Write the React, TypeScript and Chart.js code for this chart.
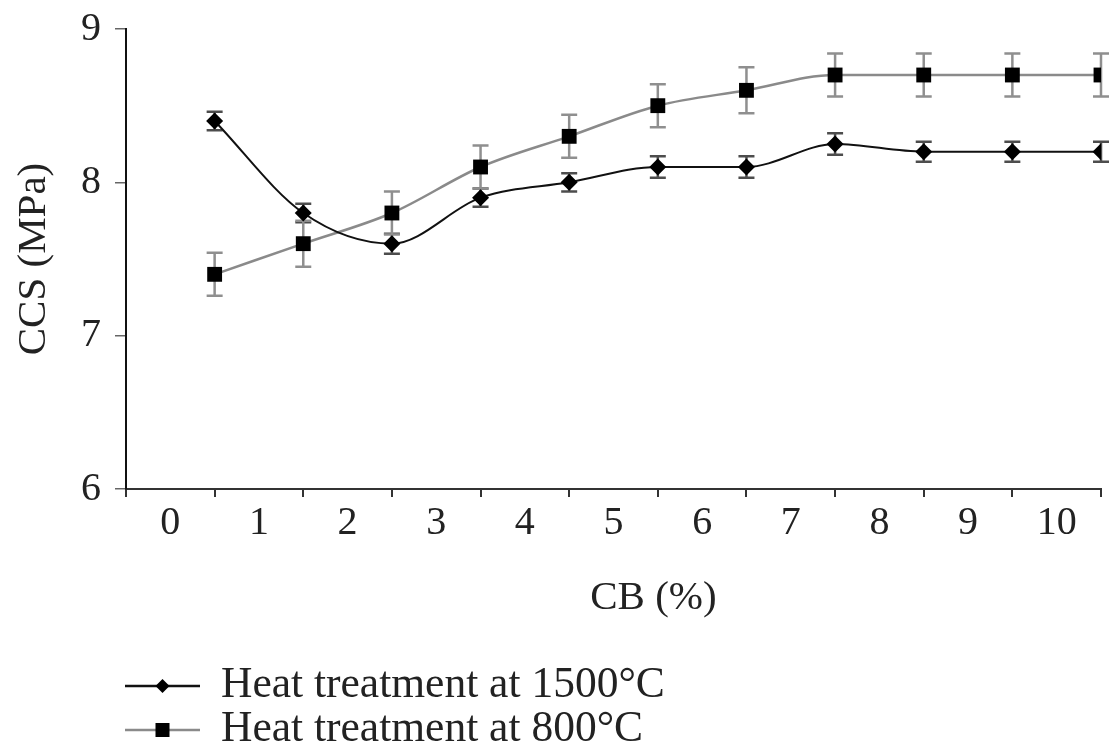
import React, { useEffect, useRef } from 'react';
import { Chart, registerables } from 'chart.js';

Chart.register(...registerables);

// ---- data ----
const xLabels = ['0', '1', '2', '3', '4', '5', '6', '7', '8', '9', '10'];
const xPositions = [1, 2, 3, 4, 5, 6, 7, 8, 9, 10, 11];
const series1500 = [8.4, 7.8, 7.6, 7.9, 8.0, 8.1, 8.1, 8.25, 8.2, 8.2, 8.2];
const err1500 = [0.06, 0.06, 0.065, 0.06, 0.06, 0.07, 0.07, 0.07, 0.065, 0.065, 0.065];
const series800 = [7.4, 7.6, 7.8, 8.1, 8.3, 8.5, 8.6, 8.7, 8.7, 8.7, 8.7];
const err800 = [0.14, 0.15, 0.14, 0.14, 0.14, 0.14, 0.15, 0.14, 0.14, 0.14, 0.14];
const seriesNames = ['Heat treatment at 1500°C', 'Heat treatment at 800°C'];
const xTitle = 'CB (%)';
const yTitle = 'CCS (MPa)';

const FONT = '"Liberation Serif", "Times New Roman", serif';

const errorBarPlugin = {
  id: 'errorBars',
  beforeDatasetsDraw(chart: any) {
    const { ctx } = chart;
    const xs = chart.scales.x;
    const ys = chart.scales.y;
    ctx.save();
    chart.data.datasets.forEach((ds: any) => {
      ctx.strokeStyle = ds.errorColor;
      ctx.lineWidth = 2.5;
      ds.data.forEach((pt: any, i: number) => {
        const e = ds.errors[i];
        const px = xs.getPixelForValue(pt.x);
        const top = ys.getPixelForValue(pt.y + e);
        const bot = ys.getPixelForValue(pt.y - e);
        ctx.beginPath();
        ctx.moveTo(px, top);
        ctx.lineTo(px, bot);
        ctx.moveTo(px - 8, top);
        ctx.lineTo(px + 8, top);
        ctx.moveTo(px - 8, bot);
        ctx.lineTo(px + 8, bot);
        ctx.stroke();
      });
    });
    ctx.restore();
  },
};

const annotationsPlugin = {
  id: 'customTexts',
  afterDraw(chart: any) {
    const { ctx, chartArea } = chart;
    ctx.save();
    // x-axis title
    ctx.fillStyle = '#222';
    ctx.font = `41px ${FONT}`;
    ctx.textAlign = 'center';
    ctx.textBaseline = 'middle';
    ctx.fillText(xTitle, chartArea.left + (chartArea.right - chartArea.left) * 0.541, chartArea.bottom + 109);

    // legend
    const rows = [chartArea.bottom + 197, chartArea.bottom + 241];
    chart.data.datasets.forEach((ds: any, i: number) => {
      const y = rows[i];
      const x0 = chartArea.left - 1;
      const x1 = chartArea.left + 74;
      const xm = (x0 + x1) / 2;
      ctx.strokeStyle = ds.borderColor;
      ctx.lineWidth = 2.5;
      ctx.beginPath();
      ctx.moveTo(x0, y);
      ctx.lineTo(x1, y);
      ctx.stroke();
      ctx.fillStyle = '#000';
      ctx.beginPath();
      if (ds.pointStyle === 'rectRot') {
        const r = 7;
        ctx.moveTo(xm, y - r);
        ctx.lineTo(xm + r, y);
        ctx.lineTo(xm, y + r);
        ctx.lineTo(xm - r, y);
        ctx.closePath();
      } else {
        ctx.rect(xm - 7, y - 7, 14, 14);
      }
      ctx.fill();
      ctx.fillStyle = '#222';
      ctx.font = `43.5px ${FONT}`;
      ctx.textAlign = 'left';
      ctx.textBaseline = 'middle';
      ctx.fillText(ds.label, chartArea.left + 95, y);
    });
    ctx.restore();
  },
};

export default function App() {
  const canvasRef = useRef<HTMLCanvasElement | null>(null);

  useEffect(() => {
    document.body.style.margin = '0';
    const canvas = canvasRef.current;
    if (!canvas) return;
    const chart = new Chart(canvas, {
      type: 'line',
      data: {
        datasets: [
          {
            label: seriesNames[0],
            data: xPositions.map((x, i) => ({ x, y: series1500[i] })),
            errors: err1500,
            errorColor: '#4d4d4d',
            borderColor: '#111111',
            borderWidth: 2,
            backgroundColor: '#000000',
            pointBackgroundColor: '#000000',
            pointBorderColor: '#000000',
            pointStyle: 'rectRot',
            pointRadius: 8.5,
            pointBorderWidth: 0,
            cubicInterpolationMode: 'monotone',
          } as any,
          {
            label: seriesNames[1],
            data: xPositions.map((x, i) => ({ x, y: series800[i] })),
            errors: err800,
            errorColor: '#8f8f8f',
            borderColor: '#8a8a8a',
            borderWidth: 2.5,
            backgroundColor: '#000000',
            pointBackgroundColor: '#000000',
            pointBorderColor: '#000000',
            pointStyle: 'rect',
            pointRadius: 10.5,
            pointBorderWidth: 0,
            cubicInterpolationMode: 'monotone',
          } as any,
        ],
      },
      options: {
        responsive: false,
        animation: false,
        devicePixelRatio: 1,
        layout: { padding: { left: 6, right: 12, top: 29, bottom: 206 } },
        plugins: {
          legend: { display: false },
          tooltip: { enabled: false },
        },
        scales: {
          x: {
            type: 'linear',
            min: 0,
            max: 11,
            afterBuildTicks: (scale: any) => {
              scale.ticks = xLabels.map((_, i) => ({ value: i + 0.5 }));
            },
            ticks: {
              autoSkip: false,
              maxRotation: 0,
              padding: 2,
              color: '#222',
              font: { family: FONT, size: 40 },
              callback: (_v: any, index: number) => xLabels[index],
            },
            grid: {
              offset: true,
              drawOnChartArea: false,
              drawTicks: true,
              tickLength: 8,
              color: '#333',
              lineWidth: 2,
            },
            border: { display: true, color: '#333', width: 2 },
          },
          y: {
            type: 'linear',
            min: 6,
            max: 9,
            afterFit: (scale: any) => {
              scale.width = 120;
              scale.paddingTop = 0;
              scale.paddingBottom = 0;
            },
            ticks: {
              stepSize: 1,
              padding: 14,
              color: '#222',
              font: { family: FONT, size: 40 },
            },
            grid: {
              drawOnChartArea: false,
              drawTicks: true,
              tickLength: 11,
              color: '#666',
              lineWidth: 1.5,
            },
            border: { display: true, color: '#111', width: 2 },
            title: {
              display: true,
              text: yTitle,
              color: '#222',
              font: { family: FONT, size: 41 },
              padding: { top: 4, bottom: 0 },
            },
          },
        },
      } as any,
      plugins: [errorBarPlugin, annotationsPlugin],
    });
    return () => chart.destroy();
  }, []);

  return (
    <div style={{ width: 1113, height: 755 }}>
      <canvas ref={canvasRef} width={1113} height={755} />
    </div>
  );
}
